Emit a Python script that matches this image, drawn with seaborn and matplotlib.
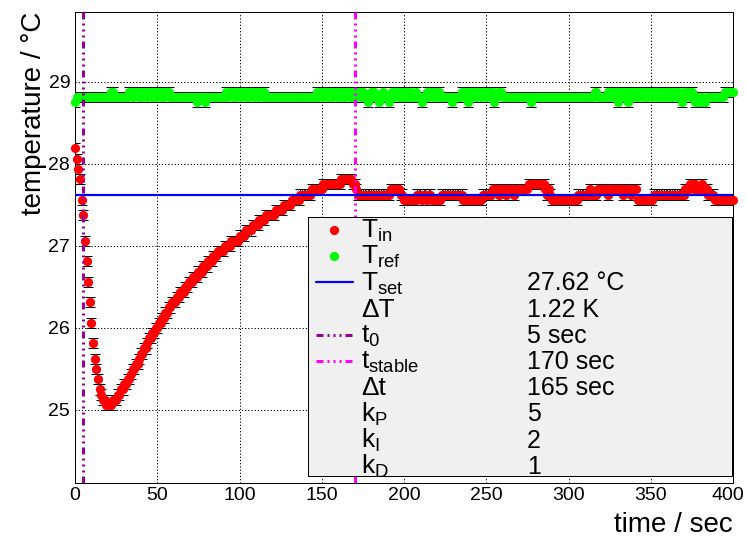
import numpy as np
import pandas as pd
import matplotlib
matplotlib.use("Agg")
import matplotlib.pyplot as plt
import matplotlib.transforms as mtransforms
import seaborn as sns
from matplotlib.patches import Rectangle
from matplotlib.ticker import MultipleLocator

# ---- measurement data (1 Hz sampling, sensor resolution 1/16 degC) ----
time_s = np.arange(0, 401)

t_in = [
    28.1875, 28.0625, 27.9375, 27.8125, 27.5625, 27.375, 27.0625, 26.8125, 26.5625, 26.3125,
    26.0625, 25.8125, 25.625, 25.5, 25.375, 25.25, 25.1875, 25.125, 25.125, 25.0625,
    25.0625, 25.0625, 25.0625, 25.125, 25.125, 25.125, 25.1875, 25.1875, 25.25, 25.25,
    25.3125, 25.3125, 25.375, 25.375, 25.4375, 25.5, 25.5, 25.5625, 25.5625, 25.625,
    25.6875, 25.6875, 25.75, 25.75, 25.8125, 25.875, 25.875, 25.9375, 25.9375, 26.0,
    26.0, 26.0625, 26.0625, 26.125, 26.125, 26.1875, 26.1875, 26.25, 26.25, 26.3125,
    26.3125, 26.3125, 26.375, 26.375, 26.4375, 26.4375, 26.4375, 26.5, 26.5, 26.5625,
    26.5625, 26.5625, 26.625, 26.625, 26.625, 26.6875, 26.6875, 26.6875, 26.75, 26.75,
    26.75, 26.8125, 26.8125, 26.8125, 26.875, 26.875, 26.875, 26.9375, 26.9375, 26.9375,
    26.9375, 27.0, 27.0, 27.0, 27.0, 27.0625, 27.0625, 27.0625, 27.0625, 27.0625,
    27.125, 27.125, 27.125, 27.125, 27.1875, 27.1875, 27.1875, 27.1875, 27.25, 27.25,
    27.25, 27.25, 27.3125, 27.3125, 27.3125, 27.3125, 27.375, 27.375, 27.375, 27.375,
    27.375, 27.375, 27.4375, 27.4375, 27.4375, 27.4375, 27.4375, 27.5, 27.5, 27.5,
    27.5, 27.5, 27.5625, 27.5625, 27.5625, 27.5625, 27.5625, 27.625, 27.625, 27.625,
    27.625, 27.625, 27.625, 27.625, 27.6875, 27.6875, 27.6875, 27.6875, 27.6875, 27.6875,
    27.6875, 27.75, 27.75, 27.75, 27.75, 27.75, 27.75, 27.75, 27.75, 27.75,
    27.75, 27.75, 27.8125, 27.8125, 27.8125, 27.8125, 27.8125, 27.8125, 27.8125, 27.75,
    27.75, 27.6875, 27.625, 27.625, 27.625, 27.625, 27.625, 27.625, 27.625, 27.625,
    27.625, 27.625, 27.625, 27.625, 27.625, 27.625, 27.625, 27.625, 27.625, 27.625,
    27.625, 27.625, 27.6875, 27.6875, 27.6875, 27.6875, 27.6875, 27.6875, 27.625, 27.625,
    27.5625, 27.5625, 27.5625, 27.5625, 27.5625, 27.5625, 27.5625, 27.5625, 27.625, 27.625,
    27.625, 27.5625, 27.625, 27.625, 27.5625, 27.625, 27.625, 27.5625, 27.5625, 27.5625,
    27.5625, 27.5625, 27.5625, 27.625, 27.625, 27.625, 27.625, 27.625, 27.625, 27.625,
    27.625, 27.625, 27.625, 27.625, 27.625, 27.625, 27.5625, 27.5625, 27.5625, 27.5625,
    27.5625, 27.5625, 27.5625, 27.5625, 27.5625, 27.5625, 27.5625, 27.5625, 27.625, 27.625,
    27.625, 27.625, 27.625, 27.625, 27.6875, 27.6875, 27.6875, 27.6875, 27.625, 27.6875,
    27.6875, 27.6875, 27.625, 27.6875, 27.6875, 27.6875, 27.6875, 27.625, 27.6875, 27.6875,
    27.6875, 27.6875, 27.6875, 27.6875, 27.6875, 27.6875, 27.75, 27.75, 27.75, 27.75,
    27.75, 27.75, 27.75, 27.75, 27.75, 27.75, 27.6875, 27.625, 27.6875, 27.625,
    27.5625, 27.5625, 27.5625, 27.5625, 27.5625, 27.5625, 27.5625, 27.5625, 27.5625, 27.5625,
    27.5625, 27.5625, 27.5625, 27.5625, 27.5625, 27.5625, 27.625, 27.625, 27.625, 27.625,
    27.625, 27.625, 27.625, 27.6875, 27.625, 27.625, 27.625, 27.625, 27.6875, 27.6875,
    27.6875, 27.6875, 27.6875, 27.6875, 27.625, 27.6875, 27.6875, 27.6875, 27.6875, 27.6875,
    27.6875, 27.6875, 27.6875, 27.625, 27.6875, 27.6875, 27.6875, 27.6875, 27.625, 27.6875,
    27.6875, 27.6875, 27.5625, 27.5625, 27.5625, 27.5625, 27.5625, 27.5625, 27.5625, 27.5625,
    27.5625, 27.5625, 27.625, 27.625, 27.625, 27.625, 27.625, 27.625, 27.625, 27.625,
    27.625, 27.625, 27.625, 27.625, 27.625, 27.625, 27.625, 27.625, 27.625, 27.625,
    27.625, 27.6875, 27.6875, 27.6875, 27.75, 27.75, 27.6875, 27.75, 27.6875, 27.6875,
    27.6875, 27.75, 27.6875, 27.6875, 27.6875, 27.625, 27.625, 27.625, 27.625, 27.5625,
    27.5625, 27.5625, 27.5625, 27.5625, 27.5625, 27.5625, 27.5625, 27.5625, 27.5625, 27.5625,
    27.5625,
]

t_ref = [
    28.75, 28.8125, 28.8125, 28.8125, 28.8125, 28.8125, 28.8125, 28.8125, 28.8125, 28.8125,
    28.8125, 28.8125, 28.8125, 28.8125, 28.8125, 28.8125, 28.8125, 28.8125, 28.8125, 28.8125,
    28.8125, 28.8125, 28.875, 28.875, 28.8125, 28.8125, 28.8125, 28.8125, 28.8125, 28.8125,
    28.8125, 28.8125, 28.8125, 28.875, 28.875, 28.8125, 28.875, 28.875, 28.875, 28.8125,
    28.875, 28.8125, 28.875, 28.875, 28.8125, 28.875, 28.875, 28.8125, 28.875, 28.8125,
    28.875, 28.875, 28.8125, 28.875, 28.8125, 28.875, 28.875, 28.875, 28.8125, 28.8125,
    28.8125, 28.8125, 28.8125, 28.8125, 28.8125, 28.8125, 28.8125, 28.8125, 28.8125, 28.8125,
    28.8125, 28.8125, 28.8125, 28.8125, 28.75, 28.8125, 28.8125, 28.8125, 28.8125, 28.75,
    28.8125, 28.8125, 28.8125, 28.8125, 28.8125, 28.8125, 28.8125, 28.8125, 28.8125, 28.8125,
    28.8125, 28.8125, 28.875, 28.8125, 28.875, 28.875, 28.8125, 28.875, 28.8125, 28.875,
    28.875, 28.8125, 28.875, 28.875, 28.8125, 28.875, 28.8125, 28.875, 28.875, 28.8125,
    28.875, 28.8125, 28.875, 28.875, 28.8125, 28.875, 28.8125, 28.8125, 28.8125, 28.8125,
    28.8125, 28.8125, 28.8125, 28.8125, 28.8125, 28.8125, 28.8125, 28.8125, 28.8125, 28.8125,
    28.8125, 28.8125, 28.8125, 28.8125, 28.8125, 28.8125, 28.8125, 28.8125, 28.8125, 28.8125,
    28.8125, 28.8125, 28.8125, 28.8125, 28.8125, 28.8125, 28.8125, 28.875, 28.8125, 28.875,
    28.875, 28.8125, 28.875, 28.875, 28.8125, 28.875, 28.8125, 28.875, 28.875, 28.8125,
    28.875, 28.875, 28.8125, 28.875, 28.8125, 28.875, 28.875, 28.8125, 28.875, 28.8125,
    28.875, 28.8125, 28.875, 28.875, 28.8125, 28.875, 28.8125, 28.8125, 28.75, 28.8125,
    28.875, 28.8125, 28.875, 28.8125, 28.8125, 28.75, 28.8125, 28.875, 28.8125, 28.8125,
    28.8125, 28.75, 28.8125, 28.875, 28.8125, 28.875, 28.875, 28.8125, 28.875, 28.8125,
    28.875, 28.8125, 28.875, 28.8125, 28.875, 28.8125, 28.8125, 28.875, 28.8125, 28.8125,
    28.8125, 28.75, 28.8125, 28.8125, 28.875, 28.8125, 28.875, 28.875, 28.8125, 28.875,
    28.8125, 28.875, 28.8125, 28.8125, 28.8125, 28.8125, 28.8125, 28.8125, 28.8125, 28.75,
    28.8125, 28.8125, 28.8125, 28.8125, 28.8125, 28.875, 28.875, 28.8125, 28.875, 28.75,
    28.875, 28.8125, 28.875, 28.875, 28.8125, 28.875, 28.875, 28.8125, 28.875, 28.875,
    28.8125, 28.875, 28.875, 28.8125, 28.875, 28.75, 28.8125, 28.875, 28.875, 28.875,
    28.8125, 28.8125, 28.8125, 28.8125, 28.8125, 28.8125, 28.8125, 28.8125, 28.8125, 28.8125,
    28.8125, 28.8125, 28.8125, 28.8125, 28.8125, 28.8125, 28.8125, 28.75, 28.8125, 28.8125,
    28.8125, 28.8125, 28.8125, 28.8125, 28.8125, 28.8125, 28.8125, 28.8125, 28.8125, 28.8125,
    28.8125, 28.8125, 28.8125, 28.8125, 28.8125, 28.8125, 28.8125, 28.8125, 28.8125, 28.8125,
    28.8125, 28.8125, 28.8125, 28.8125, 28.8125, 28.8125, 28.8125, 28.8125, 28.8125, 28.8125,
    28.8125, 28.8125, 28.8125, 28.8125, 28.8125, 28.8125, 28.875, 28.875, 28.8125, 28.8125,
    28.8125, 28.8125, 28.8125, 28.8125, 28.875, 28.8125, 28.875, 28.875, 28.8125, 28.875,
    28.75, 28.875, 28.8125, 28.875, 28.8125, 28.875, 28.75, 28.875, 28.8125, 28.875,
    28.875, 28.8125, 28.875, 28.8125, 28.875, 28.875, 28.8125, 28.875, 28.8125, 28.875,
    28.875, 28.8125, 28.875, 28.875, 28.8125, 28.875, 28.8125, 28.875, 28.875, 28.8125,
    28.875, 28.8125, 28.875, 28.8125, 28.875, 28.875, 28.8125, 28.875, 28.8125, 28.75,
    28.875, 28.8125, 28.875, 28.875, 28.8125, 28.875, 28.8125, 28.75, 28.75, 28.8125,
    28.75, 28.8125, 28.75, 28.75, 28.8125, 28.8125, 28.8125, 28.8125, 28.8125, 28.8125,
    28.8125, 28.8125, 28.8125, 28.8125, 28.8125, 28.875, 28.875, 28.875, 28.875, 28.875,
    28.875,
]

t_in_err = 0.0625
t_ref_err = 0.0625

t_set = 27.62
t_zero = 5
t_stable = 170

legend_labels = [r"$\mathrm{T_{in}}$", r"$\mathrm{T_{ref}}$", r"$\mathrm{T_{set}}$", "ΔT",
                 r"$\mathrm{t_{0}}$", r"$\mathrm{t_{stable}}$", "Δt",
                 r"$\mathrm{k_{P}}$", r"$\mathrm{k_{I}}$", r"$\mathrm{k_{D}}$"]
legend_values = ["", "", "27.62 °C", "1.22 K", "5 sec", "170 sec", "165 sec", "5", "2", "1"]

x_ticks = [0, 50, 100, 150, 200, 250, 300, 350, 400]
y_ticks = [25, 26, 27, 28, 29]

# ---- style ----
sns.set_theme(style="white")
plt.rcParams["font.family"] = ["Liberation Sans", "DejaVu Sans"]
plt.rcParams["mathtext.fontset"] = "custom"
plt.rcParams["mathtext.rm"] = "Liberation Sans"
plt.rcParams["mathtext.it"] = "Liberation Sans:italic"
plt.rcParams["mathtext.bf"] = "Liberation Sans:bold"
plt.rcParams["lines.scale_dashes"] = False

PX = 0.72  # one pixel in points at 100 dpi
W, H = 747, 537
L, R, T, B = 75, 733, 12, 483
MARKER_S = 44

fig = plt.figure(figsize=(W / 100, H / 100), dpi=100)
ax = fig.add_axes([L / W, 1 - B / H, (R - L) / W, (B - T) / H])

df = pd.DataFrame({"time": time_s, "T_in": t_in, "T_ref": t_ref})

# error bars first, markers on top
for col, err in (("T_in", t_in_err), ("T_ref", t_ref_err)):
    ax.errorbar(df["time"], df[col], yerr=err, fmt="none", ecolor="black",
                elinewidth=0.8 * PX, capsize=3.5, capthick=1.0 * PX, zorder=2)

sns.scatterplot(data=df, x="time", y="T_in", color="#ff0000", s=MARKER_S, linewidth=0,
                ax=ax, zorder=3, legend=False)
sns.scatterplot(data=df, x="time", y="T_ref", color="#00ff00", s=MARKER_S, linewidth=0,
                ax=ax, zorder=3, legend=False)
for coll in ax.collections:
    coll.set_clip_on(False)

# set point and time markers
ax.axhline(t_set, color="#0000ff", lw=2.2 * PX, zorder=4)
dash_t0 = (0, (7 * PX, 4 * PX, 2 * PX, 4 * PX, 2 * PX, 4 * PX, 2 * PX, 4 * PX))
ax.axvline(t_zero, color="#990099", lw=3 * PX, linestyle=dash_t0, zorder=4)
ax.axvline(t_stable, color="#ff00ff", lw=3 * PX, linestyle=dash_t0, zorder=4)

ax.set_xlim(0, 400)
ax.set_ylim(24.11, 29.85)
ax.set_xticks(x_ticks)
ax.set_yticks(y_ticks)
ax.xaxis.set_minor_locator(MultipleLocator(10))
ax.yaxis.set_minor_locator(MultipleLocator(0.2))
ax.tick_params(which="both", direction="in", top=False, right=False,
               width=1.0 * PX, color="black", labelsize=14, labelcolor="black")
ax.tick_params(axis="x", which="major", length=13 * PX, pad=3)
ax.tick_params(axis="x", which="minor", length=6.5 * PX)
ax.tick_params(axis="y", which="major", length=19 * PX, pad=3.5)
ax.tick_params(axis="y", which="minor", length=9.5 * PX)
ax.grid(True, which="major", color="black", lw=1.0 * PX, linestyle=(0, (1.2 * PX, 2 * PX)))
ax.set_axisbelow(True)
for sp in ax.spines.values():
    sp.set_color("black")
    sp.set_linewidth(1.0 * PX)
    sp.set_visible(True)

# keep the last x tick label inside the canvas
last_lbl = ax.get_xticklabels()[-1]
last_lbl.set_transform(last_lbl.get_transform()
                       + mtransforms.ScaledTranslation(-5 / 100, 0, fig.dpi_scale_trans))

ax.set_xlabel("time / sec", fontsize=20, loc="right", color="black")
ax.xaxis.set_label_coords(1.0, -0.062)
ax.xaxis.label.set_va("top")
ax.set_ylabel("temperature / °C", fontsize=20, loc="top", color="black")
ax.yaxis.set_label_coords(-0.043, 1.0)

# ---- legend box ----
def axfrac(px, py):
    return (px - L) / (R - L), (B - py) / (B - T)

x0, y0 = axfrac(308, 476)
x1, y1 = axfrac(732, 217)
ax.add_patch(Rectangle((x0, y0), x1 - x0, y1 - y0, transform=ax.transAxes,
                       facecolor="#f0f0f0", edgecolor="black", lw=1.0 * PX,
                       zorder=10, clip_on=False))

row_y = [229 + 26.2 * i for i in range(len(legend_labels))]
hx0, _ = axfrac(316, 0)
hx1, _ = axfrac(353, 0)
hxm, _ = axfrac(334, 0)
lx, _ = axfrac(361, 0)
vx, _ = axfrac(527, 0)

for i, (lab, val) in enumerate(zip(legend_labels, legend_values)):
    _, yc = axfrac(0, row_y[i] + 1)
    _, yb = axfrac(0, row_y[i] + 9)
    if i == 0:
        ax.scatter([hxm], [yc], s=MARKER_S, color="#ff0000", lw=0, transform=ax.transAxes,
                   zorder=11, clip_on=False)
    elif i == 1:
        ax.scatter([hxm], [yc], s=MARKER_S, color="#00ff00", lw=0, transform=ax.transAxes,
                   zorder=11, clip_on=False)
    elif i == 2:
        ax.plot([hx0, hx1], [yc, yc], color="#0000ff", lw=2.2 * PX,
                transform=ax.transAxes, zorder=11, clip_on=False)
    elif i == 4:
        ax.plot([hx0, hx1], [yc, yc], color="#990099", lw=3 * PX, linestyle=dash_t0,
                transform=ax.transAxes, zorder=11, clip_on=False)
    elif i == 5:
        ax.plot([hx0, hx1], [yc, yc], color="#ff00ff", lw=3 * PX, linestyle=dash_t0,
                transform=ax.transAxes, zorder=11, clip_on=False)
    ax.text(lx, yb, lab, transform=ax.transAxes, fontsize=19, color="black",
            ha="left", va="baseline", zorder=12)
    if val:
        ax.text(vx, yb, val, transform=ax.transAxes, fontsize=18, color="black",
                ha="left", va="baseline", zorder=12)

fig.savefig("out.png", dpi=100, facecolor="white")
